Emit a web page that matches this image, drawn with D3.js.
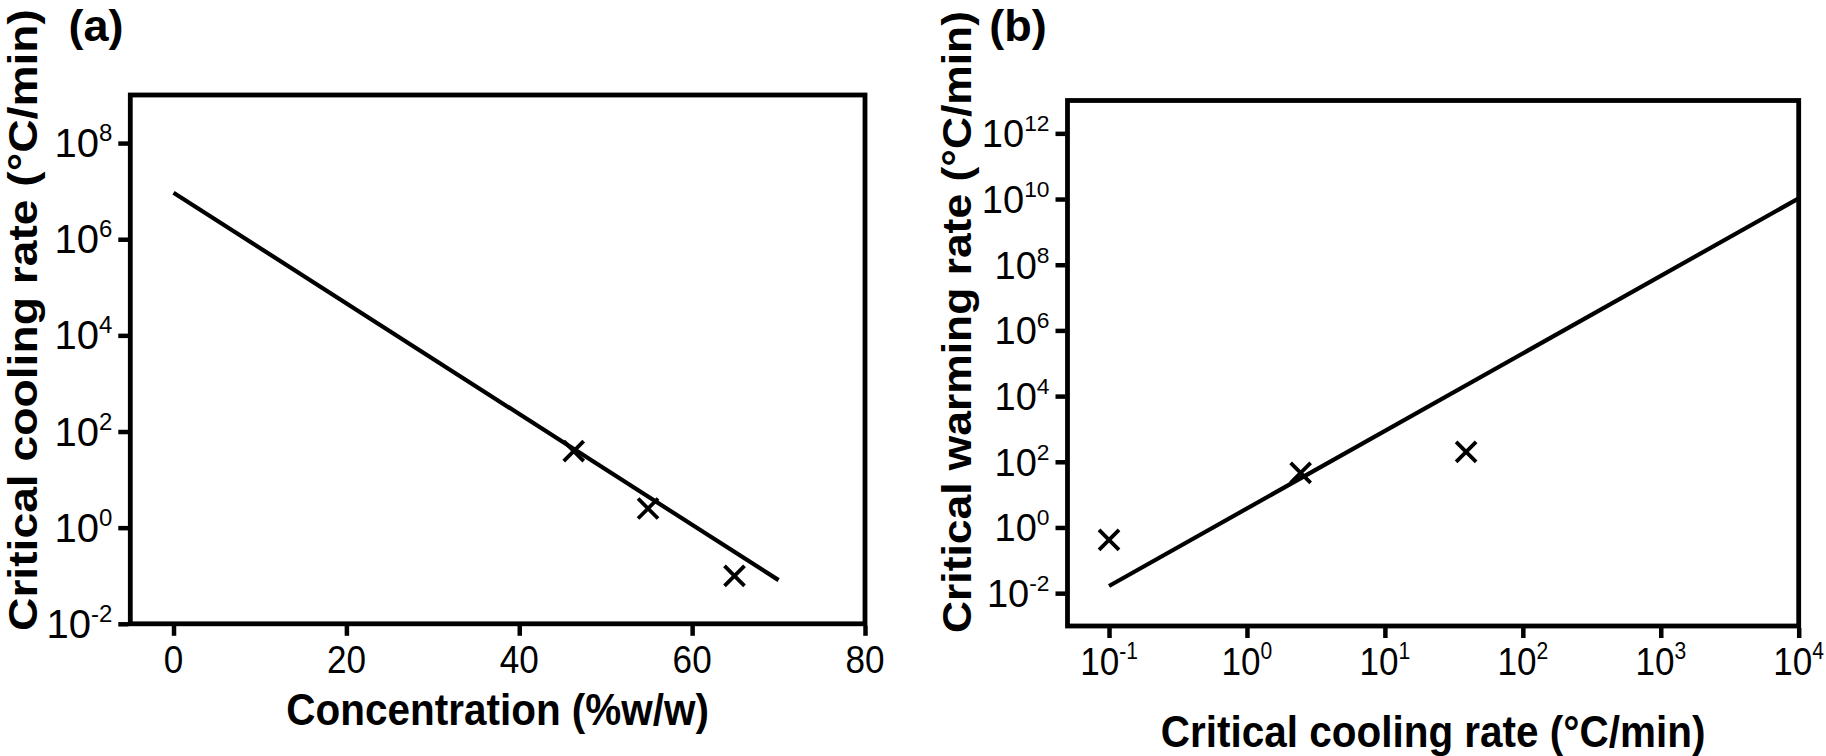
<!DOCTYPE html>
<html>
<head>
<meta charset="utf-8">
<script src="https://cdn.jsdelivr.net/npm/d3@7"></script>
<style>
  html, body { margin: 0; padding: 0; background: #fff; }
  svg { display: block; }
  text { font-family: "Liberation Sans", Arial, Helvetica, sans-serif; fill: #000; }
</style>
</head>
<body>
<svg id="chart" width="1826" height="756"></svg>
<script>
// ---------- Panel (a) data ----------
const aConcentration = [46.3, 54.9, 64.9];          // %w/w
const aCoolingRate   = [39, 2.5, 0.099];            // °C/min
const aFitX = [0, 70];
const aFitY = [9.3e6, 0.081];
const aXTicks = [0, 20, 40, 60, 80];
const aYTickExps = [-2, 0, 2, 4, 6, 8];

// ---------- Panel (b) data ----------
const bCoolingRate = [0.1, 2.45, 38.8];             // °C/min
const bWarmingRate = [0.42, 46, 200];               // °C/min
const bFitX = [0.1, 1e4];
const bFitY = [0.0165, 1.05e10];
const bXTickExps = [-1, 0, 1, 2, 3, 4];
const bYTickExps = [-2, 0, 2, 4, 6, 8, 10, 12];

const svg = d3.select("#chart");

function drawPanel(cfg) {
  const g = svg.append("g");
  const x = cfg.x, y = cfg.y;
  const [x0, x1] = x.range();
  const [y0, y1] = y.range(); // y0 bottom, y1 top

  // fitted line
  const line = d3.line().x(d => x(d[0])).y(d => y(d[1]));
  g.append("path")
    .datum(cfg.fitX.map((v, i) => [v, cfg.fitY[i]]))
    .attr("d", line)
    .attr("fill", "none").attr("stroke", "#000").attr("stroke-width", 4.2);

  // markers (x)
  const s = 10;
  const pts = cfg.px.map((v, i) => [x(v), y(cfg.py[i])]);
  g.selectAll("path.mk").data(pts).join("path")
    .attr("class", "mk")
    .attr("d", d => `M${d[0]-s},${d[1]-s}L${d[0]+s},${d[1]+s}M${d[0]-s},${d[1]+s}L${d[0]+s},${d[1]-s}`)
    .attr("stroke", "#000").attr("stroke-width", 3.8).attr("fill", "none");

  // axes via d3 (tick marks; labels drawn below)
  const tickLen = 12;
  const xAxis = d3.axisBottom(x).tickValues(cfg.xTicks).tickSize(tickLen).tickSizeOuter(0).tickFormat("");
  const yAxis = d3.axisLeft(y).tickValues(cfg.yTicks).tickSize(tickLen).tickSizeOuter(0).tickFormat("");
  const gx = g.append("g").attr("transform", `translate(0,${y0})`).call(xAxis);
  const gy = g.append("g").attr("transform", `translate(${x0},0)`).call(yAxis);
  [gx, gy].forEach(a => {
    a.select(".domain").remove();
    a.selectAll(".tick line").attr("stroke", "#000").attr("stroke-width", 4.5);
  });
  gx.selectAll(".tick line").attr("y1", 2);
  gy.selectAll(".tick line").attr("x1", -2);

  // frame
  g.append("rect")
    .attr("x", x0).attr("y", y1)
    .attr("width", x1 - x0).attr("height", y0 - y1)
    .attr("fill", "none").attr("stroke", "#000").attr("stroke-width", 4.8);

  // y tick labels (10^n)
  cfg.yTicks.forEach(v => {
    const e = Math.round(Math.log10(v));
    const t = g.append("text")
      .attr("x", x0 - tickLen - 6).attr("y", y(v) + 14)
      .attr("text-anchor", "end").attr("font-size", cfg.yTickFont);
    t.append("tspan").text("10");
    t.append("tspan").attr("dy", -16).attr("font-size", cfg.yTickFont * 0.6).text(String(e));
  });

  // x tick labels (slightly condensed)
  cfg.xTicks.forEach(v => {
    const t = g.append("text")
      .attr("transform", `translate(${x(v)},${y0 + 49}) scale(0.9,1)`)
      .attr("text-anchor", "middle").attr("font-size", cfg.xTickFont);
    if (cfg.xLog) {
      const e = Math.round(Math.log10(v));
      t.append("tspan").text("10");
      t.append("tspan").attr("dy", -16).attr("font-size", cfg.xTickFont * 0.6).text(String(e));
    } else {
      t.text(String(v));
    }
  });

  // x title
  g.append("text")
    .attr("transform", `translate(${(x0 + x1) / 2},${cfg.xTitleY}) scale(0.92,1)`)
    .attr("text-anchor", "middle").attr("font-size", 44).attr("font-weight", "bold")
    .text(cfg.xTitle);

  // y title
  g.append("text")
    .attr("transform", `translate(${cfg.yTitleX},${cfg.yTitleCY}) rotate(-90)`)
    .attr("text-anchor", "middle").attr("font-size", 40).attr("font-weight", "bold")
    .attr("textLength", 622).attr("lengthAdjust", "spacingAndGlyphs")
    .text(cfg.yTitle);

  // panel label
  g.append("text")
    .attr("x", cfg.labelX).attr("y", 41)
    .attr("text-anchor", "middle").attr("font-size", 45).attr("font-weight", "bold")
    .text(cfg.label);
}

drawPanel({
  x: d3.scaleLinear().domain([-5, 80]).range([130.3, 865]),
  y: d3.scaleLog().domain([1e-2, 1e9]).range([623.8, 95]),
  px: aConcentration, py: aCoolingRate,
  fitX: aFitX, fitY: aFitY,
  xTicks: aXTicks,
  yTicks: aYTickExps.map(e => Math.pow(10, e)),
  xLog: false,
  yTickFont: 40, xTickFont: 39,
  xTitle: "Concentration (%w/w)", xTitleY: 725,
  yTitle: "Critical cooling rate (°C/min)", yTitleX: 37, yTitleCY: 320,
  label: "(a)", labelX: 96
});

drawPanel({
  x: d3.scaleLog().domain([0.05, 1e4]).range([1067.5, 1798.7]),
  y: d3.scaleLog().domain([1e-3, 1e13]).range([626, 100.5]),
  px: bCoolingRate, py: bWarmingRate,
  fitX: bFitX, fitY: bFitY,
  xTicks: bXTickExps.map(e => Math.pow(10, e)),
  yTicks: bYTickExps.map(e => Math.pow(10, e)),
  xLog: true,
  yTickFont: 38, xTickFont: 39,
  xTitle: "Critical cooling rate (°C/min)", xTitleY: 747,
  yTitle: "Critical warming rate (°C/min)", yTitleX: 971, yTitleCY: 322,
  label: "(b)", labelX: 1018
});
</script>
</body>
</html>
